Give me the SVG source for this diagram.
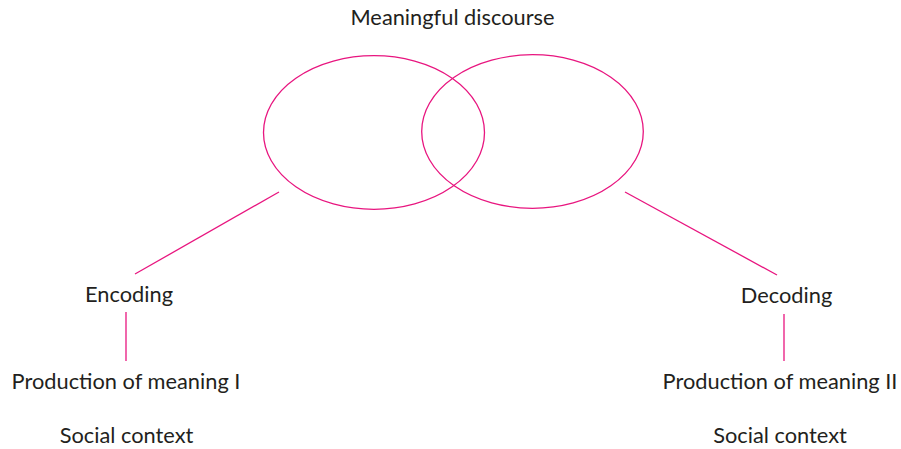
<svg xmlns="http://www.w3.org/2000/svg" width="901" height="449" viewBox="0 0 901 449">
<style>
.t{font-family:"Lato","Open Sans","DejaVu Sans",sans-serif;font-size:21.8px;fill:#231f20;text-anchor:middle}
.c{stroke:#e8157f;stroke-width:1.3;fill:none}
</style>
<rect width="901" height="449" fill="#fff"/>
<g id="discourse">
<ellipse class="c" cx="374" cy="132.5" rx="110.5" ry="76.8"/>
<ellipse class="c" cx="532.5" cy="131.5" rx="110.8" ry="76.8"/>
<text class="t" x="452.5" y="24.5">Meaningful discourse</text>
</g>
<g id="connectors">
<line class="c" x1="279" y1="192" x2="135" y2="274"/>
<line class="c" x1="625" y1="192" x2="777" y2="275"/>
<line class="c" x1="126" y1="312" x2="126" y2="361"/>
<line class="c" x1="784" y1="314" x2="784" y2="361"/>
</g>
<g id="encoding"><text class="t" x="129" y="302">Encoding</text></g>
<g id="decoding"><text class="t" x="786.5" y="303">Decoding</text></g>
<g id="production1"><text class="t" x="126" y="389">Production of meaning I</text></g>
<g id="production2"><text class="t" x="780" y="389">Production of meaning II</text></g>
<g id="social1"><text class="t" x="126.5" y="443">Social context</text></g>
<g id="social2"><text class="t" x="780" y="443">Social context</text></g>
</svg>
